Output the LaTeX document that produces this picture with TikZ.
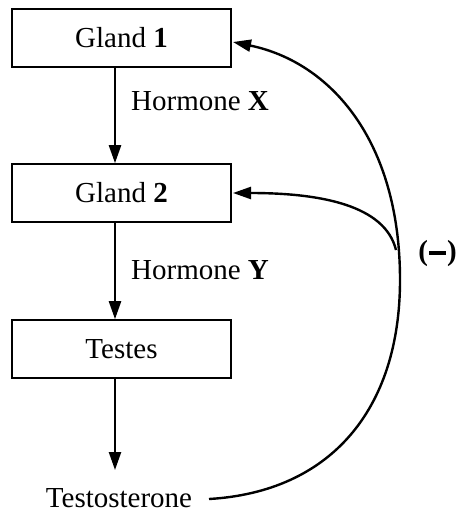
\documentclass[tikz,border=0pt]{standalone}
\usepackage{fontspec}
\setmainfont{Liberation Serif}
\usetikzlibrary{arrows.meta,calc}
\begin{document}
\begin{tikzpicture}[x=1pt,y=-1pt,
  gbox/.style={draw, line width=1.6pt, minimum width=219pt, minimum height=58pt, inner sep=0pt, font=\fontsize{29}{32}\selectfont},
  lbl/.style={font=\fontsize{29}{32}\selectfont, inner sep=0pt},
  conn/.style={line width=2.4pt, -{Triangle[length=18pt,width=12pt]}}]
\useasboundingbox (0,0) rectangle (457,514);
\node[gbox] (g1) at (121.5,38) {Gland \textbf{1}};
\node[gbox] (g2) at (121.5,193) {Gland \textbf{2}};
\node[gbox] (t) at (121.5,349) {Testes};
\node[lbl, anchor=west] (hx) at (131,101) {Hormone \textbf{X}};
\node[lbl, anchor=west] (hy) at (131,270) {Hormone \textbf{Y}};
\node[lbl] (tst) at (119,498) {Testosterone};
\node[lbl, anchor=east] (neg) at (457,254) {\textbf{(}\kern1pt\rule[6.3pt]{17pt}{3.4pt}\kern1pt\textbf{)}};
\coordinate (s1) at (g1.south -| 115,0);
\coordinate (e1) at (g2.north -| 115,0);
\coordinate (s2) at (g2.south -| 115,0);
\coordinate (e2) at (t.north -| 115,0);
\coordinate (s3) at (t.south -| 115,0);
\coordinate (e3) at (115,470);
\draw[conn] (s1) -- (e1);
\draw[conn] (s2) -- (e2);
\draw[conn] (s3) -- (e3);
\coordinate (fs) at (209,499);
\coordinate (j) at (400,280);
\coordinate (a1) at (233,42);
\coordinate (a2) at (233,193);
\draw[conn] (fs) .. controls (330,492) and (400,410) .. (j) .. controls (400,140) and (330,62) .. (a1);
\draw[conn] (396,250) .. controls (385,205) and (320,193) .. (a2);
\end{tikzpicture}
\end{document}
